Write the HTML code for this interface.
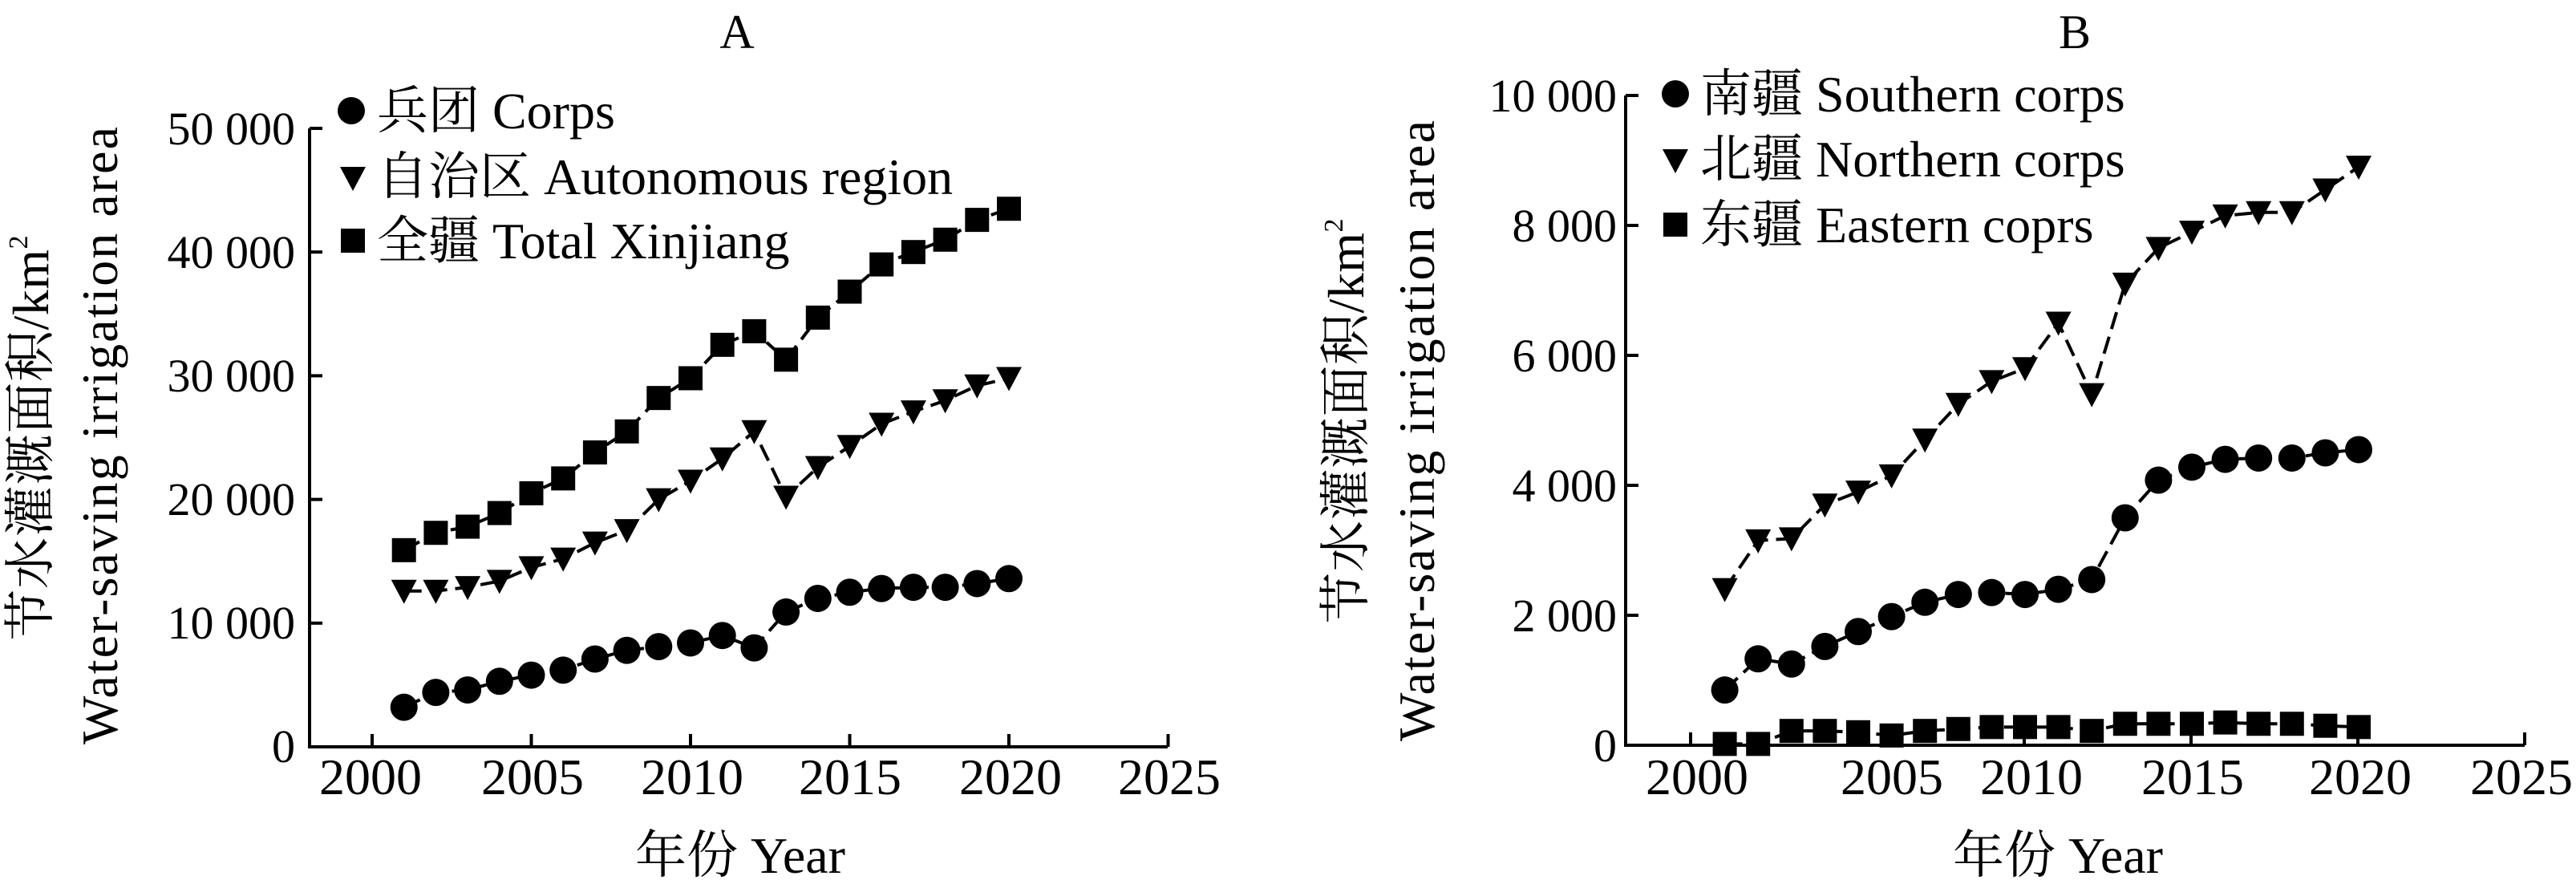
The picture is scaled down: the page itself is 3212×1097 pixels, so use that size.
<!DOCTYPE html>
<html><head><meta charset="utf-8"><style>
html,body{margin:0;padding:0;background:#fff;}
svg{display:block;}
text{font-family:"Liberation Serif","Times New Roman","Nimbus Roman","Nimbus Roman No9 L","DejaVu Serif","Noto Serif CJK SC","Noto Sans CJK SC",serif;fill:#000;}
</style></head><body>
<svg id="s" width="3212" height="1097" viewBox="0 0 3212 1097" xmlns="http://www.w3.org/2000/svg">
<g id="plots"></g>
<text x="919" y="60" font-size="60" text-anchor="middle">A</text>
<g font-size="58" text-anchor="end">
<text x="368" y="180">50 000</text>
<text x="368" y="334">40 000</text>
<text x="368" y="488">30 000</text>
<text x="368" y="642">20 000</text>
<text x="368" y="796">10 000</text>
<text x="368" y="950">0</text>
</g>
<g font-size="64" text-anchor="middle">
<text x="462" y="990">2000</text>
<text x="664" y="990">2005</text>
<text x="863" y="990">2010</text>
<text x="1060" y="990">2015</text>
<text x="1260" y="990">2020</text>
<text x="1458" y="990">2025</text>
</g>
<text x="923" y="1088" font-size="64" text-anchor="middle">年份 Year</text>
<text transform="translate(60,546) rotate(-90)" font-size="64" text-anchor="middle" textLength="505" lengthAdjust="spacing">节水灌溉面积/km<tspan font-size="34" dy="-26">2</tspan></text>
<text transform="translate(146,543) rotate(-90)" font-size="64" text-anchor="middle" textLength="770" lengthAdjust="spacing">Water-saving irrigation area</text>
<g font-size="64">
<text x="470" y="160">兵团 Corps</text>
<text x="470" y="242">自治区 Autonomous region</text>
<text x="470" y="322">全疆 Total Xinjiang</text>
</g>
<text x="2587" y="60" font-size="60" text-anchor="middle">B</text>
<g font-size="58" text-anchor="end">
<text x="2016" y="139">10 000</text>
<text x="2016" y="301">8 000</text>
<text x="2016" y="463">6 000</text>
<text x="2016" y="625">4 000</text>
<text x="2016" y="787">2 000</text>
<text x="2016" y="949">0</text>
</g>
<g font-size="64" text-anchor="middle">
<text x="2116" y="990">2000</text>
<text x="2359" y="990">2005</text>
<text x="2533" y="990">2010</text>
<text x="2734" y="990">2015</text>
<text x="2943" y="990">2020</text>
<text x="3144" y="990">2025</text>
</g>
<text x="2566" y="1088" font-size="64" text-anchor="middle">年份 Year</text>
<text transform="translate(1700,525) rotate(-90)" font-size="64" text-anchor="middle" textLength="505" lengthAdjust="spacing">节水灌溉面积/km<tspan font-size="34" dy="-26">2</tspan></text>
<text transform="translate(1788,537) rotate(-90)" font-size="64" text-anchor="middle" textLength="774" lengthAdjust="spacing">Water-saving irrigation area</text>
<g font-size="64">
<text x="2120" y="139">南疆 Southern corps</text>
<text x="2120" y="220">北疆 Northern corps</text>
<text x="2120" y="302">东疆 Eastern coprs</text>
</g>
</svg>
<script>
var NS="http://www.w3.org/2000/svg",G=document.getElementById("plots");
function el(t,a){var e=document.createElementNS(NS,t);for(var k in a)e.setAttribute(k,a[k]);G.appendChild(e);return e;}
function mk(type,x,y){
 if(type=="c")el("circle",{cx:x,cy:y,r:17,fill:"#000"});
 else if(type=="s")el("rect",{x:x-15,y:y-15,width:30,height:30,fill:"#000"});
 else el("polygon",{points:(x-16)+","+(y-14)+" "+(x+16)+","+(y-14)+" "+x+","+(y+16),fill:"#000"});
}
function panel(P,series,legend){
 el("path",{d:"M"+P.ax+","+P.top+" L"+P.ax+","+P.y0+" L"+P.xend+","+P.y0,stroke:"#000","stroke-width":4,fill:"none"});
 for(var i=0;i<=5;i++){var y=P.y0-(P.y0-P.top)*i/5;el("line",{x1:P.ax,y1:y,x2:P.ax+16,y2:y,stroke:"#000","stroke-width":4});}
 for(var yr=2000;yr<=2025;yr+=5){var x=P.x2000+(yr-2000)*P.px;el("line",{x1:x,y1:P.y0,x2:x,y2:P.y0-16,stroke:"#000","stroke-width":4});}
 series.forEach(function(s){
  var pts=s.d.map(function(v,i){return [P.x2000+(2001+i-2000)*P.px+(P.off||0),P.y0-(P.y0-P.top)*v/P.max];});
  el("polyline",{points:pts.map(function(p){return p.join(",")}).join(" "),fill:"none",stroke:"#000","stroke-width":4,"stroke-dasharray":"22,10"});
  pts.forEach(function(p){mk(s.t,p[0],p[1]);});
 });
 legend.forEach(function(l){mk(l[0],l[1],l[2]);});
}
panel({ax:386,top:160,y0:931,xend:1456,x2000:464,px:39.7,max:50},[
 {t:"c",d:[3.2,4.4,4.6,5.3,5.8,6.2,7.1,7.8,8.1,8.4,9.0,8.0,10.9,12.0,12.5,12.8,12.9,12.9,13.2,13.6]},
 {t:"v",d:[12.6,12.6,12.9,13.4,14.5,15.2,16.5,17.5,20.0,21.5,23.3,25.5,20.2,22.6,24.3,26.1,27.1,28.0,29.2,29.8]},
 {t:"s",d:[15.9,17.3,17.8,18.9,20.5,21.7,23.8,25.5,28.2,29.8,32.5,33.6,31.3,34.7,36.8,39.0,40.0,41.0,42.6,43.5]}
],[["c",438,138],["v",440,222],["s",440,300]]);
panel({ax:2027,top:119,y0:929,xend:3148,x2000:2108,px:41.6,max:10000,off:1},[
 {t:"c",d:[850,1330,1250,1520,1750,1980,2200,2320,2350,2320,2400,2550,3500,4080,4280,4400,4420,4420,4500,4550]},
 {t:"v",d:[2400,3150,3180,3700,3900,4150,4700,5250,5600,5800,6500,5400,7100,7650,7900,8150,8200,8200,8550,8900]},
 {t:"s",d:[20,20,220,220,200,150,220,250,280,280,280,220,330,330,330,350,330,330,300,280]}
],[["c",2089,117],["v",2089,200],["s",2089,280]]);
</script>
</body></html>
